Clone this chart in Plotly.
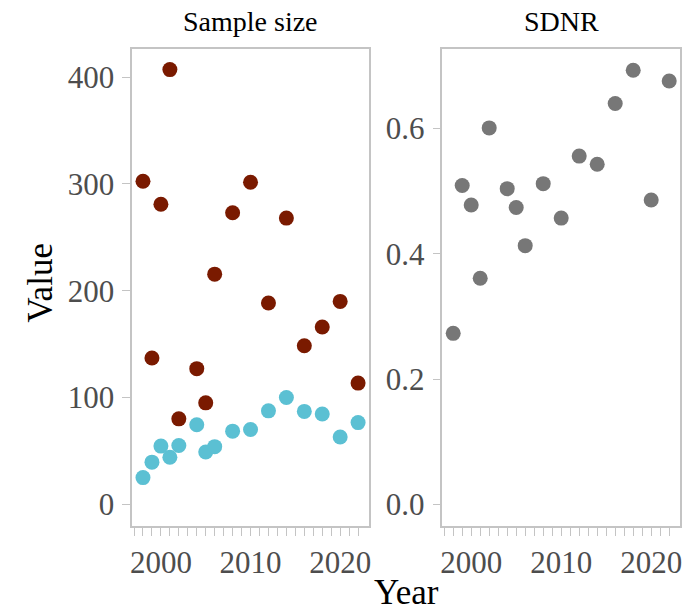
import plotly.graph_objects as go

years = [1998, 1999, 2000, 2001, 2002, 2004, 2005, 2006, 2008, 2010,
         2012, 2014, 2016, 2018, 2020, 2022]
sample_a = [302.5, 137, 281, 407, 80, 127, 95, 215.5, 273, 301.5,
            188.5, 268, 148.5, 166, 190, 113.5]
sample_b = [25, 39.5, 54.5, 44, 55, 74.5, 49, 54, 68.5, 70,
            87.5, 100, 87, 84.5, 63, 76.5]
sdnr = [0.273, 0.509, 0.478, 0.361, 0.601, 0.504, 0.474, 0.413, 0.512, 0.457,
        0.556, 0.543, 0.640, 0.693, 0.486, 0.676]

panel_titles = ["Sample size", "SDNR"]
x_title = "Year"
y_title = "Value"
left_ticks = [0, 100, 200, 300, 400]
right_ticks = [0.0, 0.2, 0.4, 0.6]
x_minor = list(range(1997, 2023))
x_labels = [str(y) if y % 10 == 0 else "" for y in x_minor]

FONT = "Liberation Serif"
BROWN = "#7a1a00"
CYAN = "#5bc0d3"
GREY = "#777777"
FRAME = "#c4c4c4"

fig = go.Figure()
fig.add_trace(go.Scatter(x=years, y=sample_b, mode="markers",
                         marker=dict(size=15, color=CYAN, line=dict(width=0)),
                         xaxis="x", yaxis="y", showlegend=False))
fig.add_trace(go.Scatter(x=years, y=sample_a, mode="markers",
                         marker=dict(size=15, color=BROWN, line=dict(width=0)),
                         xaxis="x", yaxis="y", showlegend=False))
fig.add_trace(go.Scatter(x=years, y=sdnr, mode="markers",
                         marker=dict(size=15, color=GREY, line=dict(width=0)),
                         xaxis="x2", yaxis="y2", showlegend=False))

W, H = 684, 612
L1, R1 = 131, 369
L2, R2 = 443, 682
TOP, BOT = 49, 526

def xdom(a, b):
    return [a / W, b / W]

ydom = [(H - BOT) / H, (H - TOP) / H]

tickfont = dict(family=FONT, size=31, color="#4d4d4d")
xcommon = dict(range=[1996.8, 2023.2], tickmode="array", tickvals=x_minor,
               ticktext=x_labels, ticks="outside", ticklen=8, tickwidth=1.2,
               tickcolor=FRAME, showline=True, linecolor=FRAME, linewidth=1.5,
               mirror=True, showgrid=False, zeroline=False, tickfont=tickfont,
               ticklabelstandoff=0)
ycommon = dict(tickmode="array", ticks="outside", ticklen=8, tickwidth=1.2,
               tickcolor=FRAME, showline=True, linecolor=FRAME, linewidth=1.5,
               mirror=True, showgrid=False, zeroline=False, tickfont=tickfont,
               ticklabelstandoff=2)

fig.update_layout(
    width=W, height=H,
    margin=dict(l=0, r=0, t=0, b=0),
    paper_bgcolor="white", plot_bgcolor="white",
    xaxis=dict(domain=xdom(L1, R1), anchor="y", **xcommon),
    xaxis2=dict(domain=xdom(L2, R2), anchor="y2", **xcommon),
    yaxis=dict(domain=ydom, anchor="x", range=[-20.3, 426.3],
               tickvals=left_ticks, **ycommon),
    yaxis2=dict(domain=ydom, anchor="x2", range=[-0.0346, 0.727],
                tickvals=right_ticks, tickformat=".1f", **ycommon),
    font=dict(family=FONT),
)

ann = [
    dict(text=panel_titles[0], x=(L1 + R1) / 2 / W, y=1 - 22 / H,
         xref="paper", yref="paper", showarrow=False,
         font=dict(family=FONT, size=28, color="black"),
         xanchor="center", yanchor="middle"),
    dict(text=panel_titles[1], x=(L2 + R2) / 2 / W, y=1 - 22 / H,
         xref="paper", yref="paper", showarrow=False,
         font=dict(family=FONT, size=28, color="black"),
         xanchor="center", yanchor="middle"),
    dict(text=x_title, x=(L1 + R2) / 2 / W, y=1 - 592 / H,
         xref="paper", yref="paper", showarrow=False,
         font=dict(family=FONT, size=35, color="black"),
         xanchor="center", yanchor="middle"),
    dict(text=y_title, x=38 / W, y=1 - 283 / H, textangle=-90,
         xref="paper", yref="paper", showarrow=False,
         font=dict(family=FONT, size=35, color="black"),
         xanchor="center", yanchor="middle"),
]
fig.update_layout(annotations=ann)

fig.write_html("out.html")
